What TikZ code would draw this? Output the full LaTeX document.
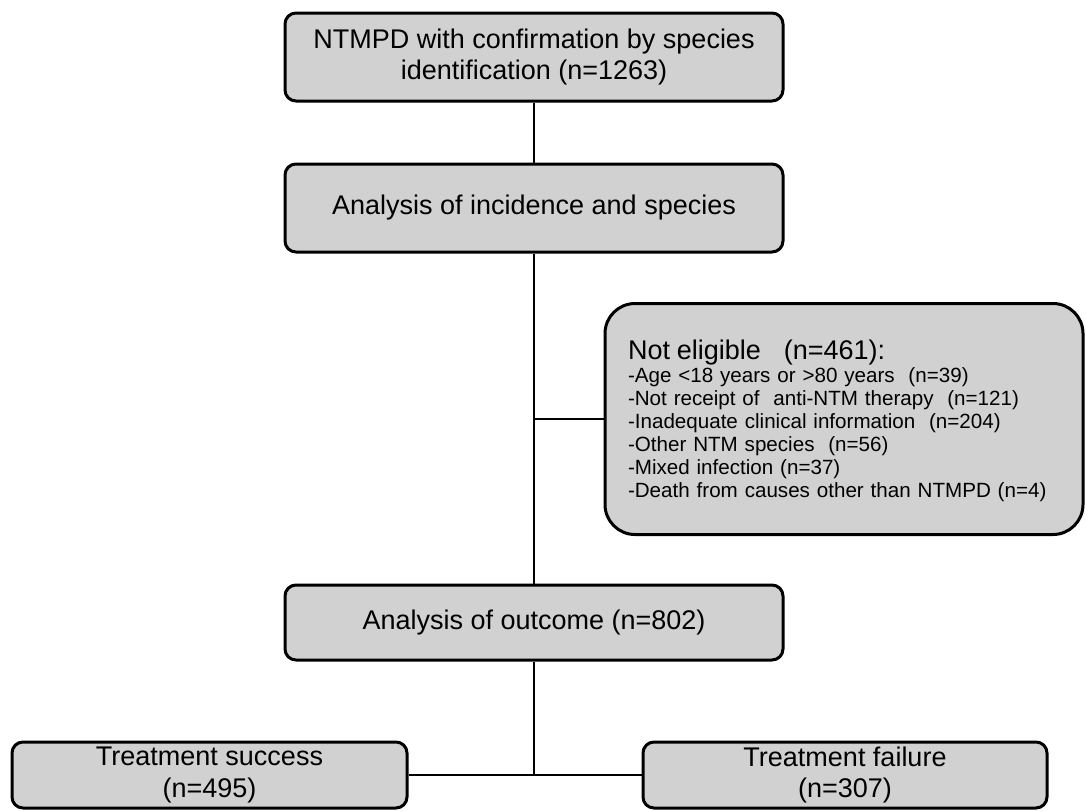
\documentclass[tikz,border=0pt]{standalone}
\usepackage{fontspec}
\setmainfont{Liberation Sans}
\usetikzlibrary{%
    calc,
    positioning
}
\definecolor{boxgray}{RGB}{209,209,209}
\tikzset{stagebox/.style = {draw, line width=1.5pt, fill=boxgray, rounded corners=5.5pt,
    align=center, inner sep=2pt, font=\fontsize{13.5}{15.8}\selectfont}}
\tikzset{notebox/.style = {stagebox, rounded corners=15pt, align=left, inner xsep=11.5pt,
    text width=216pt, font=\fontsize{10.3}{11.5}\selectfont}}
\tikzset{link/.style = {line width=0.8pt}}

\begin{document}
\begin{tikzpicture}[x=0.5pt, y=-0.5pt]
    \useasboundingbox (0,0) rectangle (1086,810);

    \node (ident) [stagebox, minimum width=249pt, minimum height=44pt] at (534,57)
        {NTMPD with confirmation by species\\identification (n=1263)};
    \node (incid) [stagebox, minimum width=249pt, minimum height=44pt] at (534,208)
        {Analysis of incidence and species};
    \node (notel) [notebox, minimum height=115.5pt] at (844,419)
        {{\fontsize{13.5}{16}\selectfont\rule{0pt}{12pt}Not eligible\hspace{0.85em}(n=461):}\\
        -Age <18 years or >80 years\ \ (n=39)\\
        -Not receipt of\ \ anti-NTM therapy\ \ (n=121)\\
        -Inadequate clinical information\ \ (n=204)\\
        -Other NTM species\ \ (n=56)\\
        -Mixed infection (n=37)\\
        -Death from causes other than NTMPD (n=4)};
    \node (outcome) [stagebox, minimum width=249pt, minimum height=37.5pt] at (534,622.5)
        {Analysis of outcome (n=802)};

    \node (success) [stagebox, minimum width=197.5pt, minimum height=33pt] at (209.5,775)
        {Treatment success\\(n=495)};
    \node (failure) [stagebox, minimum width=202pt, minimum height=33pt] at (845,775)
        {Treatment failure\\(n=307)};

    \coordinate (split) at (incid.south |- notel.west);
    \coordinate (join) at (outcome.south |- success.east);

    \foreach \Source/\Target in {ident/incid, incid/outcome, split/notel, outcome/join, success/failure}
        \draw[link] (\Source) to (\Target);
\end{tikzpicture}
\end{document}
